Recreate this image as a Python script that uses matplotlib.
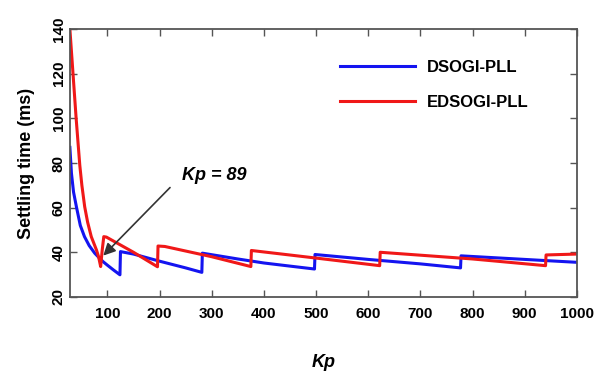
# Settling time vs Kp for DSOGI-PLL and EDSOGI-PLL
import matplotlib
matplotlib.use('Agg')
import matplotlib.pyplot as plt

plt.rcParams['font.family'] = ['Liberation Sans', 'DejaVu Sans']

# DSOGI-PLL (blue)
kp_dsogi = [28, 31, 35, 40.5, 48, 56, 65, 75.6, 83, 91.6, 100, 112, 124, 125, 150, 200, 250, 281, 282,
            350, 400, 450, 497, 498, 600, 700, 777, 778, 900, 1000]
ts_dsogi = [87, 75.4, 67, 60.4, 52, 47, 43, 39.6, 37.8, 35.8, 34.2, 32, 29.9, 40.3, 39.2, 36, 33, 31, 39.6,
            37, 35.2, 33.8, 32.5, 39, 36.8, 34.8, 33, 38.4, 36.8, 35.5]

# EDSOGI-PLL (red)
kp_edsogi = [28, 34, 40, 44, 47, 51, 56.4, 62, 69, 79, 83, 87, 90, 93, 98, 150, 196, 197, 210,
             300, 375, 376, 500, 622, 623, 800, 940, 941, 1000]
ts_edsogi = [140, 120, 100, 88, 79, 70, 60.4, 53.5, 47, 41, 38, 33.6, 41, 47, 46.8, 40, 33.5, 42.8, 42.6,
             38, 33.6, 40.8, 37.4, 34, 40, 37, 34, 38.8, 39.2]

xticks = [100, 200, 300, 400, 500, 600, 700, 800, 900, 1000]
yticks = [20, 40, 60, 80, 100, 120, 140]

fig = plt.figure(figsize=(6.13, 3.73), dpi=100)
ax = fig.add_axes([0.114, 0.204, 0.827, 0.718])

ax.plot(kp_dsogi, ts_dsogi, color='#1414f0', lw=2.2, label='DSOGI-PLL')
ax.plot(kp_edsogi, ts_edsogi, color='#f01818', lw=2.2, label='EDSOGI-PLL')

ax.set_xlim(28, 1000)
ax.set_ylim(20, 140)
ax.set_xticks(xticks)
ax.set_yticks(yticks)
ax.set_xticklabels([str(t) for t in xticks], fontsize=11, fontweight='bold')
ax.set_yticklabels([str(t) for t in yticks], fontsize=11, fontweight='bold',
                   rotation=90, va='center')
ax.tick_params(direction='in', length=5, width=1, top=True, right=True, color='#555555')
ax.tick_params(axis='x', pad=7)
ax.tick_params(axis='y', pad=3)
for s in ax.spines.values():
    s.set_color('#555555')
    s.set_linewidth(1.3)

ax.set_xlabel('Kp', fontsize=13, fontweight='bold', style='italic', labelpad=24)
ax.set_ylabel('Settling time (ms)', fontsize=13, fontweight='bold', labelpad=12)

# annotation for Kp = 89
ax.annotate('', xy=(92, 38.5), xytext=(220, 69),
            arrowprops=dict(arrowstyle='-|>', color='#333333', lw=1.2, mutation_scale=18,
                            shrinkA=0, shrinkB=0))
ax.text(304, 74.6, 'Kp = 89', fontsize=13, fontweight='bold', style='italic',
        ha='center', va='center')

ax.legend(loc='upper left', bbox_to_anchor=(0.555, 0.84), bbox_transform=fig.transFigure,
          frameon=False, prop={'weight': 'bold', 'size': 12},
          handlelength=4.5, handletextpad=0.7, labelspacing=1.2, borderpad=0, borderaxespad=0)

plt.savefig('out.png', dpi=100)
